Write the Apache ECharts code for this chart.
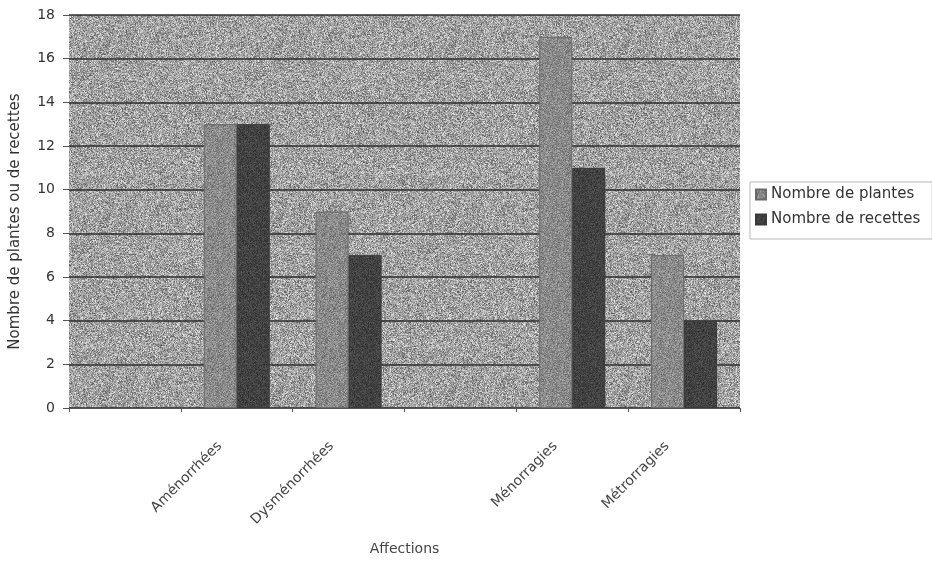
<!DOCTYPE html>
<html>
<head>
<meta charset="utf-8">
<script src="https://cdn.jsdelivr.net/npm/echarts@6/dist/echarts.min.js"></script>
<style>
  html, body { margin: 0; padding: 0; background: #fff; }
  #chart { width: 932px; height: 562px; }
</style>
</head>
<body>
<div id="chart"></div>
<script>
// Number of plants / recipes per gynaecological affection
const categories = ['', 'Aménorrhées', 'Dysménorrhées', '', 'Ménorragies', 'Métrorragies'];
const nbPlantes  = [null, 13, 9, null, 17, 7];
const nbRecettes = [null, 13, 7, null, 11, 4];
const yTicks = { min: 0, max: 18, interval: 2 };

// Grainy print-style fill: a tile of grey levels from a fixed-seed generator
function grainTile(base, spread, size, seed) {
  const c = document.createElement('canvas');
  c.width = c.height = size;
  const ctx = c.getContext('2d');
  const img = ctx.createImageData(size, size);
  let s = seed >>> 0;
  const next = () => {
    s = (s + 0x6D2B79F5) >>> 0;
    let t = s;
    t = Math.imul(t ^ (t >>> 15), t | 1);
    t ^= t + Math.imul(t ^ (t >>> 7), t | 61);
    return ((t ^ (t >>> 14)) >>> 0) / 4294967296;
  };
  for (let i = 0; i < size * size; i++) {
    const v = Math.max(0, Math.min(255, base + (next() + next() - 1) * spread));
    img.data[i * 4] = img.data[i * 4 + 1] = img.data[i * 4 + 2] = v;
    img.data[i * 4 + 3] = 255;
  }
  ctx.putImageData(img, 0, 0);
  return { image: c, repeat: 'repeat' };
}

const chart = echarts.init(document.getElementById('chart'), null, { renderer: 'canvas' });
const font = 'DejaVu Sans, Verdana, sans-serif';

chart.setOption({
  animation: false,
  backgroundColor: '#ffffff',
  textStyle: { fontFamily: font },
  grid: {
    left: 68, right: 192, top: 15, bottom: 154,
    show: true,
    backgroundColor: grainTile(162, 80, 173, 7),
    borderWidth: 0
  },
  legend: {
    orient: 'vertical',
    left: 750, top: 182,
    itemWidth: 10, itemHeight: 10,
    itemGap: 10,
    icon: 'rect',
    padding: [5, 12, 12, 5],
    borderColor: '#b8b8b8', borderWidth: 1,
    textStyle: { fontSize: 15, color: '#333', fontFamily: font },
    data: ['Nombre de plantes', 'Nombre de recettes']
  },
  xAxis: {
    type: 'category',
    data: categories,
    name: 'Affections',
    nameLocation: 'middle',
    nameGap: 134,
    nameTextStyle: { fontSize: 14, color: '#444' },
    axisLine: { lineStyle: { color: '#555', width: 1 } },
    axisTick: { show: true, alignWithLabel: false, length: 4, lineStyle: { color: '#555' } },
    axisLabel: { rotate: 45, interval: 0, fontSize: 14, color: '#444', margin: 19, padding: [0, 24, 0, 0] }
  },
  yAxis: {
    type: 'value',
    min: yTicks.min, max: yTicks.max, interval: yTicks.interval,
    name: 'Nombre de plantes ou de recettes',
    nameLocation: 'middle',
    nameGap: 46,
    nameTextStyle: { fontSize: 15, color: '#333', padding: [0, 20, 0, 0] },
    axisLine: { show: false },
    axisTick: { show: true, length: 6, lineStyle: { color: '#555' } },
    axisLabel: { fontSize: 14, color: '#333', margin: 14 },
    splitLine: { show: true, lineStyle: { color: '#2e2e2e', width: 1.5 } }
  },
  series: [
    {
      name: 'Nombre de plantes',
      type: 'bar',
      data: nbPlantes,
      barWidth: 33,
      barGap: '0%',
      itemStyle: { color: grainTile(138, 44, 61, 11), borderColor: '#6a6a6a', borderWidth: 1 }
    },
    {
      name: 'Nombre de recettes',
      type: 'bar',
      data: nbRecettes,
      barWidth: 33,
      barGap: '0%',
      itemStyle: { color: grainTile(66, 26, 53, 23), borderColor: '#3a3a3a', borderWidth: 1 }
    }
  ]
});
</script>
</body>
</html>
